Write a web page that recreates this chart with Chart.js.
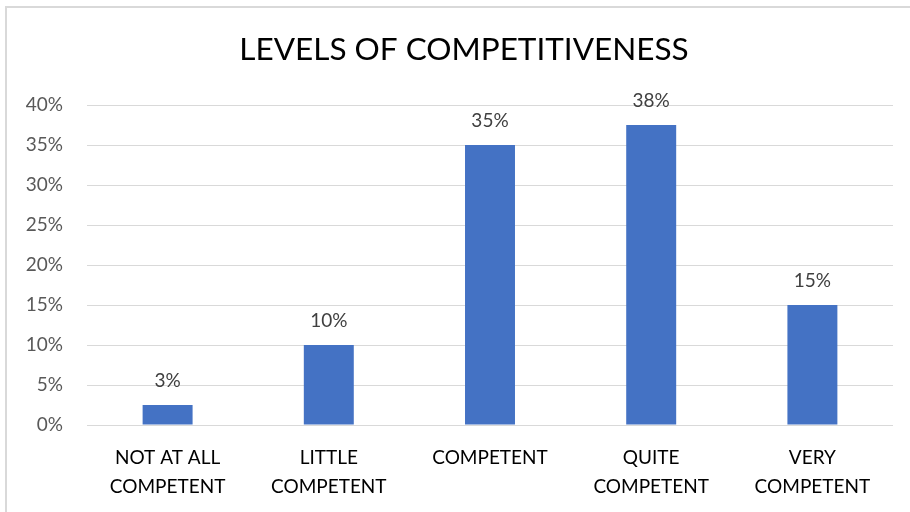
<!DOCTYPE html>
<html>
<head>
<meta charset="utf-8">
<title>Levels of competitiveness</title>
<script src="https://cdn.jsdelivr.net/npm/chart.js@4"></script>
<style>
  html, body { margin: 0; padding: 0; background: #fff; }
  #frame {
    position: absolute; left: 5px; top: 6px; width: 920px; height: 520px;
    border-top: 2px solid #d9d9d9; border-left: 2px solid #d9d9d9;
  }
  #wrap { position: absolute; left: 0; top: 0; width: 910px; height: 512px; }
</style>
</head>
<body>
<div id="frame"></div>
<div id="wrap"><canvas id="myChart" width="910" height="512"></canvas></div>
<script>
'use strict';

const chartTitle = 'LEVELS OF COMPETITIVENESS';
const categories = [
  ['NOT AT ALL', 'COMPETENT'],
  ['LITTLE', 'COMPETENT'],
  'COMPETENT',
  ['QUITE', 'COMPETENT'],
  ['VERY', 'COMPETENT']
];
const shares = [2.5, 10, 35, 37.5, 15];
const yTicks = [0, 5, 10, 15, 20, 25, 30, 35, 40];

const fontName = 'Lato, "Open Sans", sans-serif';

// title sits a bit right of the canvas centre, so it is drawn by hand
const titleText = {
  id: 'titleText',
  afterDraw(chart) {
    let ctx = chart.ctx;
    ctx.save();
    ctx.font = '31.5px ' + fontName;
    ctx.fillStyle = '#000';
    ctx.textAlign = 'center';
    ctx.textBaseline = 'middle';
    ctx.fillText(chartTitle, 464, 50);
    ctx.restore();
  }
};

// writes the rounded percentage above every bar
const barValues = {
  id: 'barValues',
  afterDatasetsDraw(chart) {
    let ctx = chart.ctx;
    let meta = chart.getDatasetMeta(0);
    ctx.save();
    ctx.font = '19px ' + fontName;
    ctx.fillStyle = '#404040';
    ctx.textAlign = 'center';
    ctx.textBaseline = 'alphabetic';
    meta.data.forEach(function (bar, i) {
      ctx.fillText(Math.round(shares[i]) + '%', bar.x, bar.y - 18);
    });
    ctx.restore();
  }
};

let ctx = document.getElementById('myChart').getContext('2d');
let chart = new Chart(ctx, {
  type: 'bar',
  data: {
    labels: categories,
    datasets: [{
      label: 'share',
      data: shares,
      backgroundColor: '#4472C4',
      borderWidth: 0,
      barPercentage: 0.31,
      categoryPercentage: 1
    }]
  },
  options: {
    responsive: false,
    animation: false,
    layout: { padding: { left: 0, right: 17, top: 105, bottom: 0 } },
    plugins: {
      legend: { display: false },
      tooltip: { enabled: false },
      title: { display: false }
    },
    scales: {
      x: {
        grid: { display: false },
        border: { display: false },
        ticks: {
          color: '#000',
          padding: 10,
          maxRotation: 0,
          font: { family: fontName, size: 19, lineHeight: 1.55 }
        },
        afterFit(scale) { scale.height = 87; }
      },
      y: {
        min: 0,
        max: 40,
        afterBuildTicks(scale) {
          scale.ticks = yTicks.map(function (v) { return { value: v }; });
        },
        grid: { color: '#d9d9d9', lineWidth: 1, drawTicks: false },
        border: { display: false },
        ticks: {
          color: '#595959',
          padding: 24,
          font: { family: fontName, size: 19 },
          callback: function (v) { return v + '%'; }
        },
        afterFit(scale) { scale.width = 87; }
      }
    }
  },
  plugins: [barValues, titleText]
});
</script>
</body>
</html>
